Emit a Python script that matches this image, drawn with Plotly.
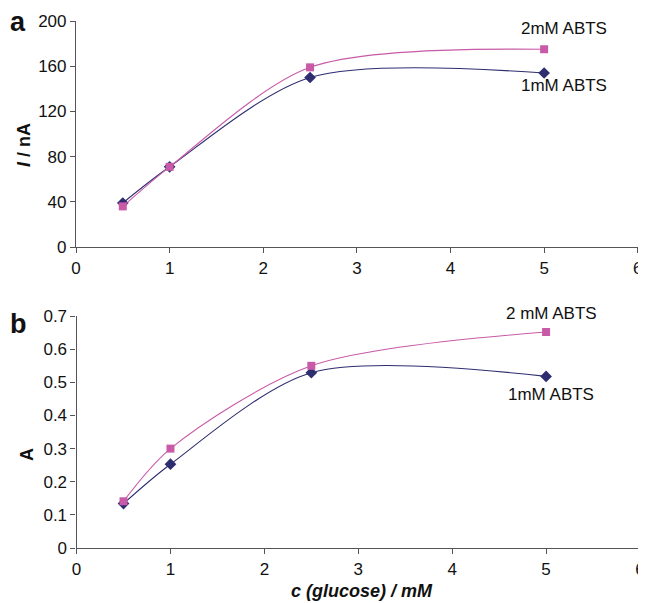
import plotly.graph_objects as go
from plotly.subplots import make_subplots

glucose = [0.5, 1.0, 2.5, 5.0]
current_1mM = [39, 71, 150, 154]
current_2mM = [36, 71, 159, 175]
abs_1mM = [0.134, 0.253, 0.529, 0.518]
abs_2mM = [0.141, 0.300, 0.550, 0.652]

navy = "#2E2D70"
pink = "#C85AA8"
axcol = "#555555"
font = "Liberation Sans, Arial, sans-serif"

fig = make_subplots(rows=2, cols=1)

def add(xs, ys, color, symbol, row):
    fig.add_trace(go.Scatter(x=xs, y=ys, mode="lines+markers",
                             line=dict(color=color, width=1.1, shape="spline", smoothing=0.85),
                             marker=dict(color=color, symbol=symbol, size=8 if symbol == "square" else 9),
                             showlegend=False, cliponaxis=False), row=row, col=1)

add(glucose, current_1mM, navy, "diamond", 1)
add(glucose, current_2mM, pink, "square", 1)
add(glucose, abs_1mM, navy, "diamond", 2)
add(glucose, abs_2mM, pink, "square", 2)

axis_common = dict(showline=True, linecolor=axcol, linewidth=1.2, ticks="outside",
                   tickcolor=axcol, ticklen=5, showgrid=False, zeroline=False,
                   automargin=False,
                   tickfont=dict(family=font, size=17, color="#111111"))

fig.update_xaxes(range=[0, 6], dtick=1, **axis_common)
fig.update_yaxes(**axis_common)
fig.update_layout(
    xaxis=dict(domain=[0, 0.996], anchor="y"),
    yaxis=dict(domain=[0.571, 1.0], range=[0, 200], dtick=40),
    xaxis2=dict(domain=[0.001, 1.0], anchor="y2"),
    yaxis2=dict(domain=[0, 0.44], range=[0, 0.7]),
)
fig.update_yaxes(tickvals=[0, 0.1, 0.2, 0.3, 0.4, 0.5, 0.6, 0.7],
                 ticktext=["0", "0.1", "0.2", "0.3", "0.4", "0.5", "0.6", "0.7"], row=2, col=1)

# page has an 8px body margin; work in reference pixel coords and shift
OFF = 8
annos = [
    dict(text="<b>a</b>", x=18, y=22, size=27),
    dict(text="<b>b</b>", x=18, y=324, size=27),
    dict(text="<b><i>I</i> / nA</b>", x=24, y=145, size=18, angle=-90),
    dict(text="<b>A</b>", x=27, y=455, size=18, angle=-90),
    dict(text="<b><i>c (glucose) / mM</i></b>", x=362, y=591, size=18),
    dict(text="2mM ABTS", x=564, y=29, size=17),
    dict(text="1mM ABTS", x=564, y=86, size=17),
    dict(text="2 mM ABTS", x=551, y=313, size=17),
    dict(text="1mM ABTS", x=551, y=394, size=17),
]
W, H = 646 - OFF, 603 - OFF
ml, mr, mt, mb = 76 - OFF, 6, 21 - OFF, 55
for a in annos:
    px = (a["x"] - OFF - ml) / (W - ml - mr)
    py = (H - mb - (a["y"] - OFF)) / (H - mt - mb)
    fig.add_annotation(text=a["text"], x=px, y=py, xref="paper", yref="paper",
                       showarrow=False, xanchor="center", yanchor="middle",
                       textangle=a.get("angle", 0),
                       font=dict(family=font, size=a["size"], color="#111111"))

fig.update_layout(width=W, height=H, margin=dict(l=ml, r=mr, t=mt, b=mb),
                  plot_bgcolor="white", paper_bgcolor="white")

fig.write_html("out.html")
